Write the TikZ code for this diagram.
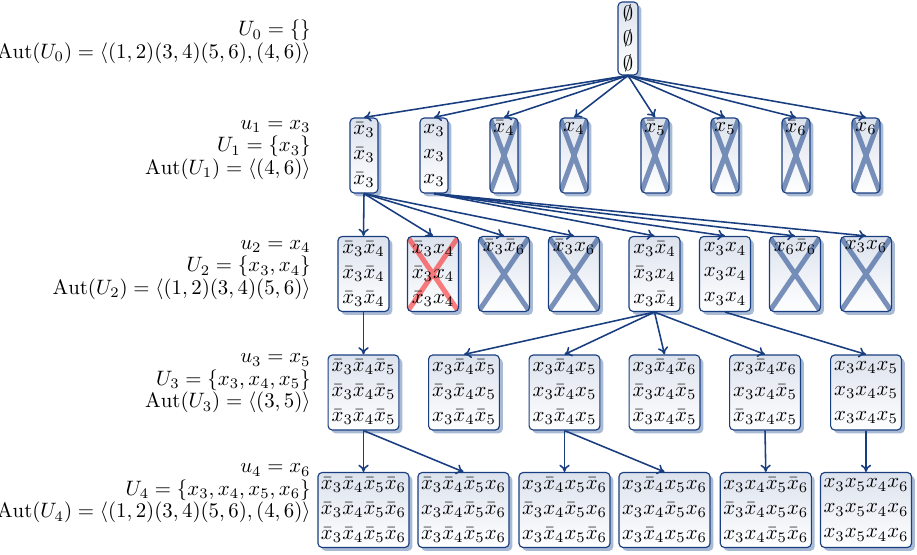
\documentclass[tikz,border=0pt]{standalone}
\usetikzlibrary{shadows,arrows.meta}
\definecolor{edgec}{RGB}{25,62,128}
\definecolor{boxtop}{RGB}{220,226,237}
\definecolor{shadc}{RGB}{160,178,208}
\definecolor{xblue}{RGB}{60,95,155}
\begin{document}
\begin{tikzpicture}[x=0.48pt,y=-0.48pt,
  bx/.style={draw=edgec, line width=0.55pt, rounded corners=2pt,
    top color=boxtop, bottom color=white, align=center, inner sep=1.3pt,
    minimum height=36pt, font=\fontsize{10}{12}\selectfont,
    drop shadow={shadow xshift=1.6pt, shadow yshift=-1.6pt, fill=shadc, opacity=0.9}},
  wa/.style={minimum width=9.6pt},
  wb/.style={minimum width=13.4pt},
  wc/.style={minimum width=24.5pt},
  wd/.style={minimum width=34pt},
  we/.style={minimum width=43.7pt},
  crossed/.style={path picture={\draw[xblue, opacity=0.68, line width=2.4pt]
    (path picture bounding box.north west) -- (path picture bounding box.south east)
    (path picture bounding box.north east) -- (path picture bounding box.south west);}},
  redx/.style={path picture={\draw[red, opacity=0.5, line width=2.4pt]
    (path picture bounding box.north west) -- (path picture bounding box.south east)
    (path picture bounding box.north east) -- (path picture bounding box.south west);}},
  lab/.style={anchor=east, align=right, inner sep=0pt, font=\fontsize{10}{10.8}\selectfont},
  conn/.style={draw=edgec, line width=0.75pt, -{To[length=3.5pt,width=5pt]}}
]
\useasboundingbox (0,0) rectangle (917,555);

% labels
\node[lab] (l0) at (311,42) {$U_0=\{\}$\\$\mathrm{Aut}(U_0)=\langle(1,2)(3,4)(5,6),(4,6)\rangle$};
\node[lab] (l1) at (311,150) {$u_1=x_3$\\$U_1=\{x_3\}$\\$\mathrm{Aut}(U_1)=\langle(4,6)\rangle$};
\node[lab] (l2) at (311,270) {$u_2=x_4$\\$U_2=\{x_3,x_4\}$\\$\mathrm{Aut}(U_2)=\langle(1,2)(3,4)(5,6)\rangle$};
\node[lab] (l3) at (311,383.5) {$u_3=x_5$\\$U_3=\{x_3,x_4,x_5\}$\\$\mathrm{Aut}(U_3)=\langle(3,5)\rangle$};
\node[lab] (l4) at (311,493.5) {$u_4=x_6$\\$U_4=\{x_3,x_4,x_5,x_6\}$\\$\mathrm{Aut}(U_4)=\langle(1,2)(3,4)(5,6),(4,6)\rangle$};

% row 0
\node[bx,wa,minimum height=35pt] (r0) at (628,38.5) {$\emptyset$\\$\emptyset$\\$\emptyset$};

% row 1
\node[bx,wb] (a1) at (364,155.5) {$\bar x_3$\\$\bar x_3$\\$\bar x_3$};
\node[bx,wb] (a2) at (434,155.5) {$x_3$\\$x_3$\\$x_3$};
\node[bx,wb,crossed] (a3) at (504,155.5) {$\bar x_4$\\\strut\\\strut};
\node[bx,wb,crossed] (a4) at (574,155.5) {$x_4$\\\strut\\\strut};
\node[bx,wb,crossed] (a5) at (655,155.5) {$\bar x_5$\\\strut\\\strut};
\node[bx,wb,crossed] (a6) at (725,155.5) {$x_5$\\\strut\\\strut};
\node[bx,wb,crossed] (a7) at (796,155.5) {$\bar x_6$\\\strut\\\strut};
\node[bx,wb,crossed] (a8) at (866,155.5) {$x_6$\\\strut\\\strut};

% row 2
\node[bx,wc] (b1) at (363.5,274) {$\bar x_3\bar x_4$\\$\bar x_3\bar x_4$\\$\bar x_3\bar x_4$};
\node[bx,wc,redx] (b2) at (433,274) {$\bar x_3x_4$\\$\bar x_3x_4$\\$\bar x_3x_4$};
\node[bx,wc,crossed] (b3) at (504,274) {$\bar x_3\bar x_6$\\\strut\\\strut};
\node[bx,wc,crossed] (b4) at (574,274) {$\bar x_3x_6$\\\strut\\\strut};
\node[bx,wc] (b5) at (654.5,274) {$x_3\bar x_4$\\$\bar x_3x_4$\\$x_3\bar x_4$};
\node[bx,wc] (b6) at (725,274) {$x_3x_4$\\$x_3x_4$\\$x_3x_4$};
\node[bx,wc,crossed] (b7) at (795,274) {$x_6\bar x_6$\\\strut\\\strut};
\node[bx,wc,crossed] (b8) at (866,274) {$x_3x_6$\\\strut\\\strut};

% row 3
\node[bx,wd] (c1) at (363.5,392.5) {$\bar x_3\bar x_4\bar x_5$\\$\bar x_3\bar x_4\bar x_5$\\$\bar x_3\bar x_4\bar x_5$};
\node[bx,wd] (c2) at (464,392.5) {$x_3\bar x_4\bar x_5$\\$\bar x_3\bar x_4x_5$\\$x_3\bar x_4\bar x_5$};
\node[bx,wd] (c3) at (564.5,392.5) {$x_3\bar x_4x_5$\\$x_3\bar x_4x_5$\\$x_3\bar x_4x_5$};
\node[bx,wd] (c4) at (664.5,392.5) {$x_3\bar x_4\bar x_6$\\$\bar x_3x_4\bar x_5$\\$\bar x_3x_4\bar x_5$};
\node[bx,wd] (c5) at (765,392.5) {$x_3\bar x_4x_6$\\$x_3x_4\bar x_5$\\$\bar x_3x_4x_5$};
\node[bx,wd] (c6) at (866,392.5) {$x_3x_4x_5$\\$x_3x_4x_5$\\$x_3x_4x_5$};

% row 4
\node[bx,we] (d1) at (363.5,510) {$\bar x_3\bar x_4\bar x_5\bar x_6$\\$\bar x_3\bar x_4\bar x_5\bar x_6$\\$\bar x_3\bar x_4\bar x_5\bar x_6$};
\node[bx,we] (d2) at (463.5,510) {$\bar x_3\bar x_4\bar x_5x_6$\\$x_3\bar x_4\bar x_5\bar x_6$\\$\bar x_3\bar x_4\bar x_5x_6$};
\node[bx,we] (d3) at (564.5,510) {$x_3\bar x_4x_5\bar x_6$\\$\bar x_3x_4\bar x_5x_6$\\$x_3\bar x_4x_5\bar x_6$};
\node[bx,we] (d4) at (664.5,510) {$x_3\bar x_4x_5x_6$\\$x_3x_4\bar x_5x_6$\\$x_3\bar x_4x_5x_6$};
\node[bx,we] (d5) at (765.8,510) {$x_3x_4\bar x_5\bar x_6$\\$\bar x_3\bar x_4x_5x_6$\\$x_3x_4\bar x_5\bar x_6$};
\node[bx,we] (d6) at (866,510) {$x_3x_5x_4x_6$\\$x_3x_5x_4x_6$\\$x_3x_5x_4x_6$};

% connectors
\foreach \t in {a1,a2,a3,a4,a5,a6,a7,a8} \draw[conn] (r0.south) -- (\t.north);
\foreach \t in {b1,b2,b3,b4} \draw[conn] (a1.south) -- (\t.north);
\foreach \t in {b5,b6,b7,b8} \draw[conn] (a2.south) -- (\t.north);
\draw[conn] (b1.south) -- (c1.north);
\foreach \t in {c2,c3,c4,c5} \draw[conn] (b5.south) -- (\t.north);
\draw[conn] (b6.south) -- (c6.north);
\foreach \t in {d1,d2} \draw[conn] (c1.south) -- (\t.north);
\foreach \t in {d3,d4} \draw[conn] (c3.south) -- (\t.north);
\draw[conn] (c5.south) -- (d5.north);
\draw[conn] (c6.south) -- (d6.north);
\end{tikzpicture}
\end{document}
